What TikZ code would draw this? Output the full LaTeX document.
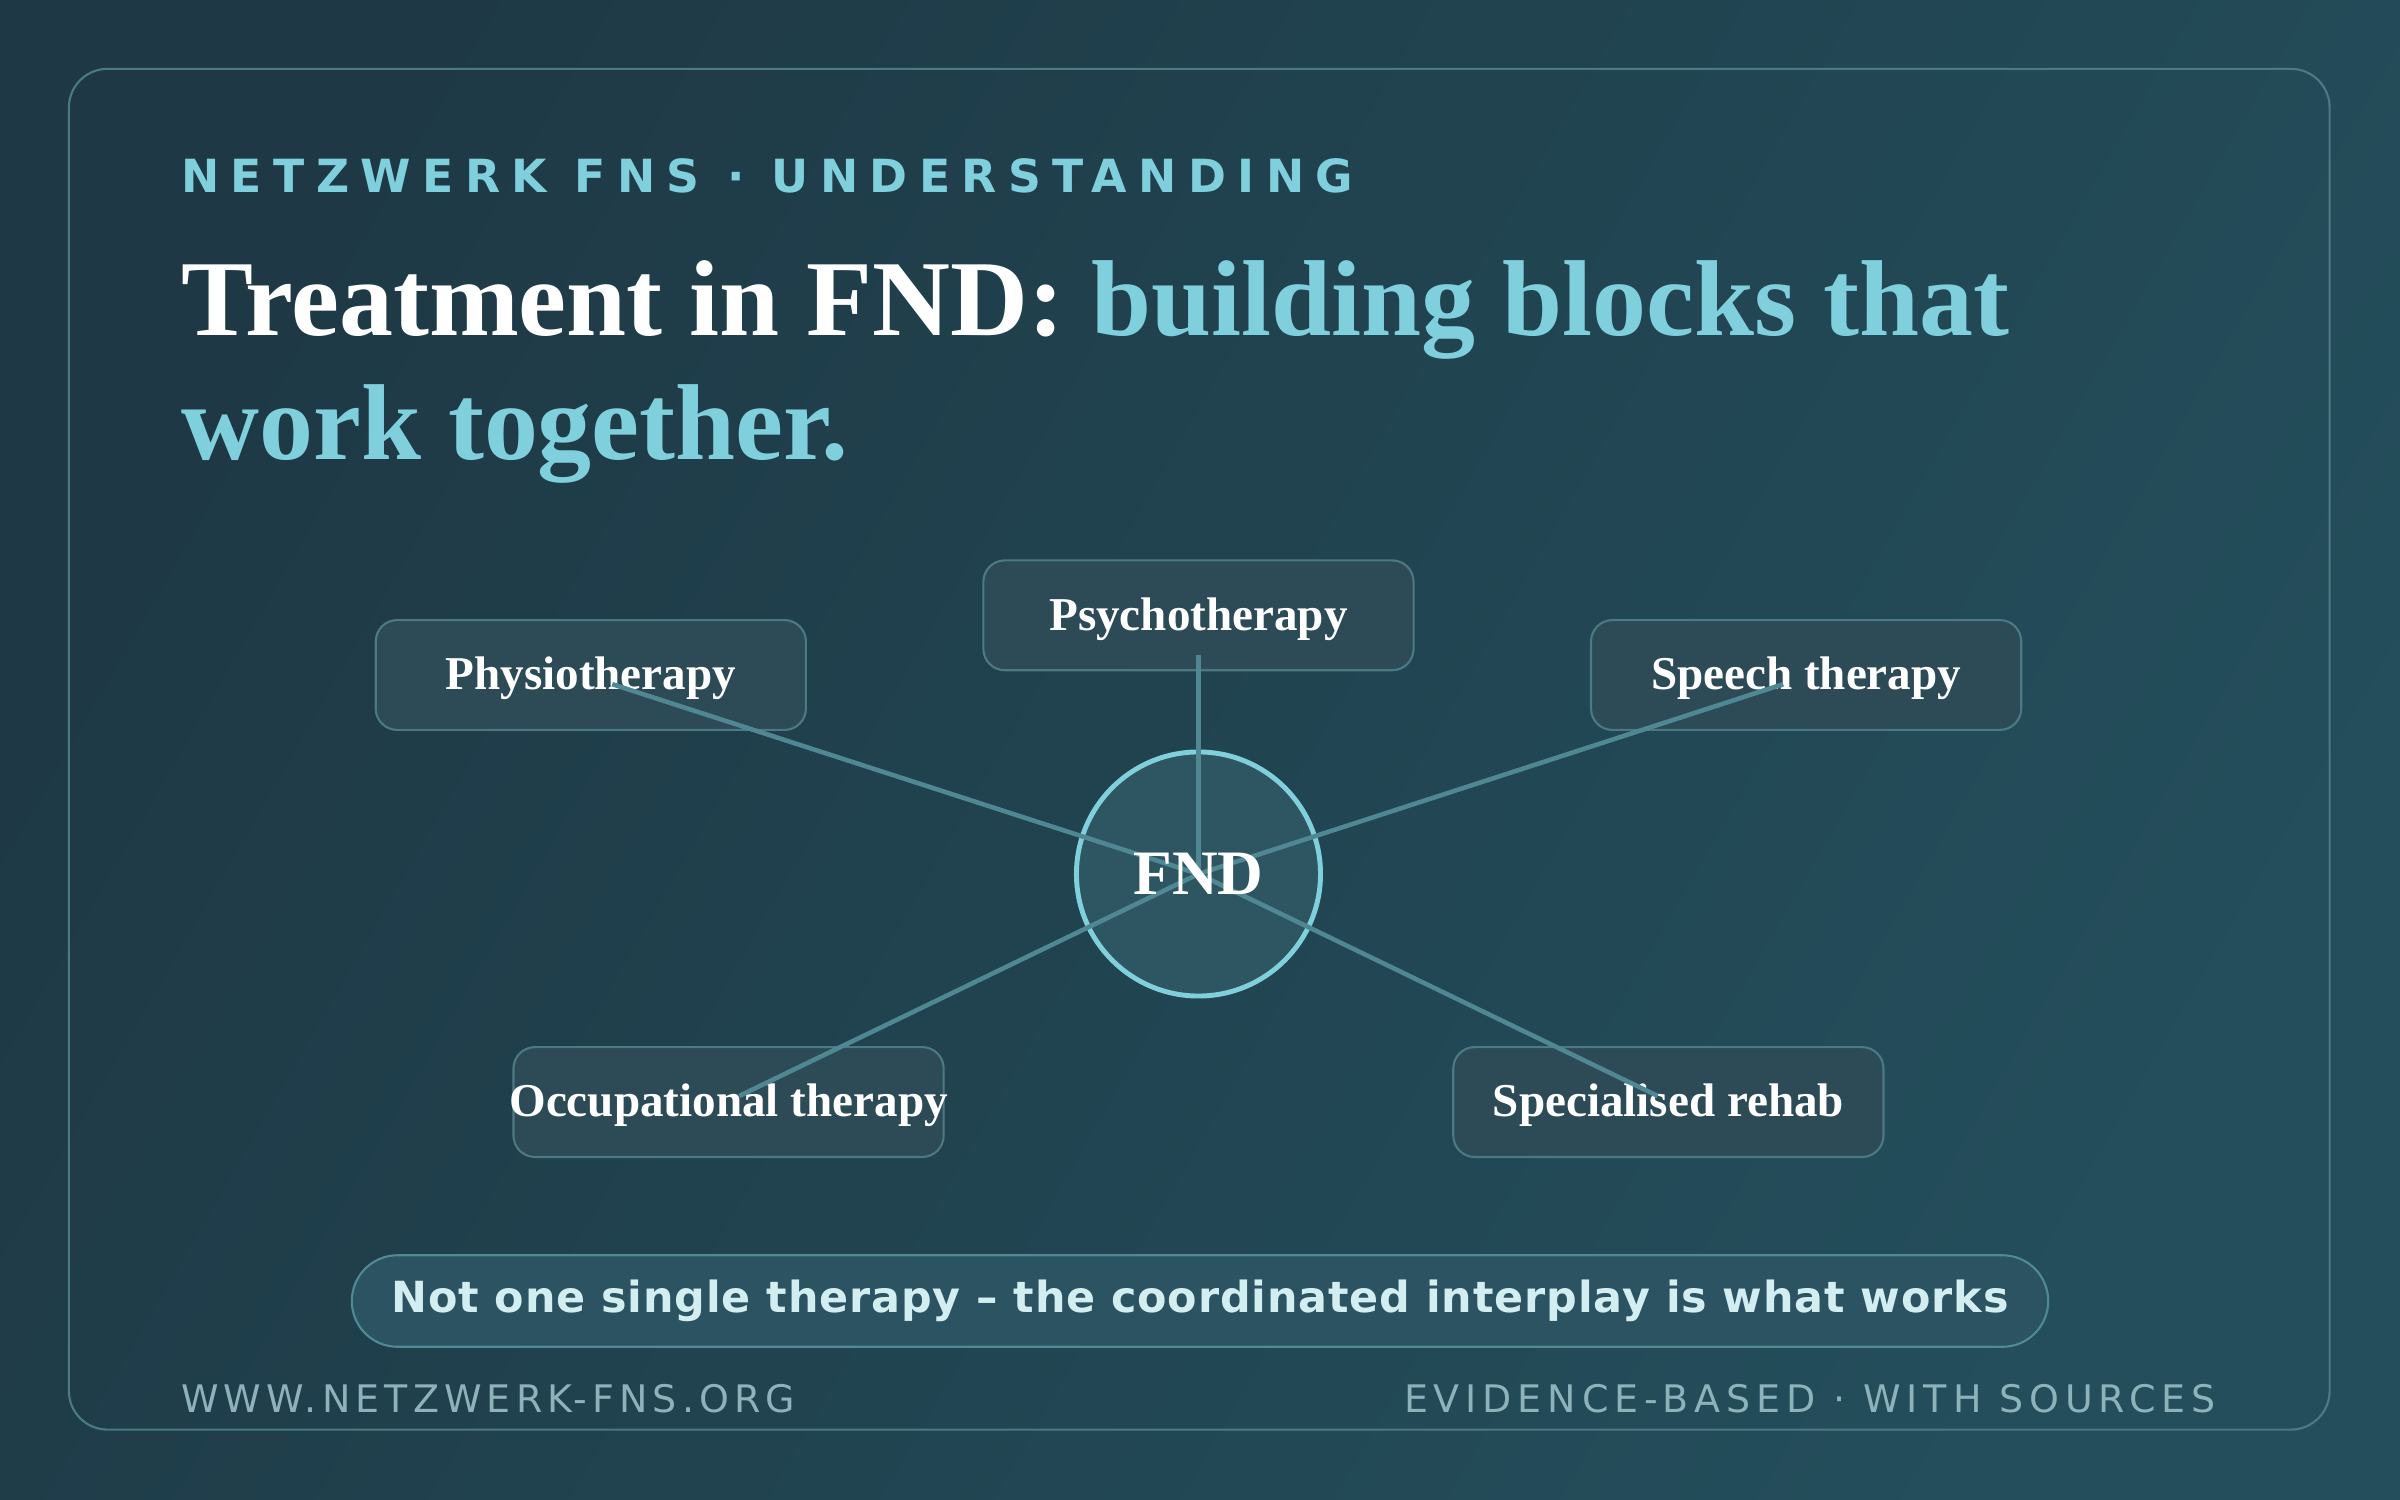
\documentclass[tikz,border=0pt]{standalone}
\usepackage{fontspec}
\setmainfont{Liberation Serif}
\newfontfamily\dv{DejaVu Sans}
\usetikzlibrary{shapes.geometric}
\definecolor{bgA}{HTML}{1E3945}
\definecolor{bgB}{HTML}{244E5C}
\definecolor{accent}{HTML}{7FD0DC}
\definecolor{boxfill}{HTML}{2C4B56}
\definecolor{boxline}{HTML}{4B7A84}
\definecolor{circfill}{HTML}{2E5662}
\definecolor{pillfill}{HTML}{2B5361}
\definecolor{pillline}{HTML}{4F8A95}
\definecolor{pilltext}{HTML}{D3EEF1}
\definecolor{link}{HTML}{4F8893}
\definecolor{foot}{HTML}{8DB2BA}
\begin{document}
\begin{tikzpicture}[x=0.0153cm,y=-0.0153cm,
  box/.style={draw=boxline,fill=boxfill,rounded corners=14pt*0.434,minimum width=282*0.434pt,minimum height=72*0.434pt,line width=0.6pt},
  lbl/.style={text=white,font=\bfseries\fontsize{13.4}{15}\selectfont,yshift=-1pt},
  link/.style={draw=link,line width=1.3pt}]
\useasboundingbox (0,0) rectangle (1568,980);
\shade[left color=bgA,right color=bgB,shading angle=60] (0,0) rectangle (1568,980);
\draw[draw=boxline,line width=0.6pt,rounded corners=11pt] (45,45) rectangle (1522,934);
\node[anchor=base west,inner sep=0,text=accent,font=\dv\bfseries\fontsize{13}{15}\selectfont\addfontfeature{LetterSpace=25}] (kick) at (118,126) {NETZWERK FNS · UNDERSTANDING};
\node[anchor=base west,inner sep=0,font=\bfseries\fontsize{30.7}{33}\selectfont] (t1) at (118,219) {\textcolor{white}{Treatment in FND:} \textcolor{accent}{building blocks that}};
\node[anchor=base west,inner sep=0,font=\bfseries\fontsize{30.7}{33}\selectfont,text=accent] (t2) at (118,300) {work together.};
\node[box] (psy) at (783,402) {};
\node[box] (phy) at (386,441) {};
\node[box] (spe) at (1180,441) {};
\node[box] (occ) at (476,720) {};
\node[box] (reh) at (1090,720) {};
\node[circle,draw=accent,fill=circfill,line width=1.4pt,minimum size=160*0.434pt] (fnd) at (783,571) {};
\node[lbl] at (psy) {Psychotherapy};
\node[lbl] at (phy) {Physiotherapy};
\node[lbl] at (spe) {Speech therapy};
\node[lbl] at (occ) {Occupational therapy};
\node[lbl] at (reh) {Specialised rehab};
\coordinate (ePsy) at (783,428);
\coordinate (ePhy) at (400,447);
\coordinate (eSpe) at (1165,447);
\coordinate (eOcc) at (483,716);
\coordinate (eReh) at (1083,716);
\foreach \e in {ePsy,ePhy,eSpe,eOcc,eReh} \draw[link] (fnd.center) -- (\e);
\node[text=white,font=\bfseries\fontsize{18}{20}\selectfont] at (fnd) {FND};
\node[draw=pillline,fill=pillfill,rounded corners=30*0.434pt,minimum width=1112*0.434pt,minimum height=60*0.434pt,line width=0.6pt,text=pilltext,font=\dv\bfseries\fontsize{12.2}{15}\selectfont\addfontfeature{LetterSpace=2}] (note) at (784,850) {Not one single therapy – the coordinated interplay is what works};
\node[anchor=base west,inner sep=0,text=foot,font=\dv\fontsize{10.8}{13}\selectfont\addfontfeature{LetterSpace=13.5}] (url) at (118,923) {WWW.NETZWERK-FNS.ORG};
\node[anchor=base east,inner sep=0,text=foot,font=\dv\fontsize{10.8}{13}\selectfont\addfontfeature{LetterSpace=15.5}] (ev) at (1448,923) {EVIDENCE-BASED · WITH SOURCES};
\end{tikzpicture}
\end{document}
